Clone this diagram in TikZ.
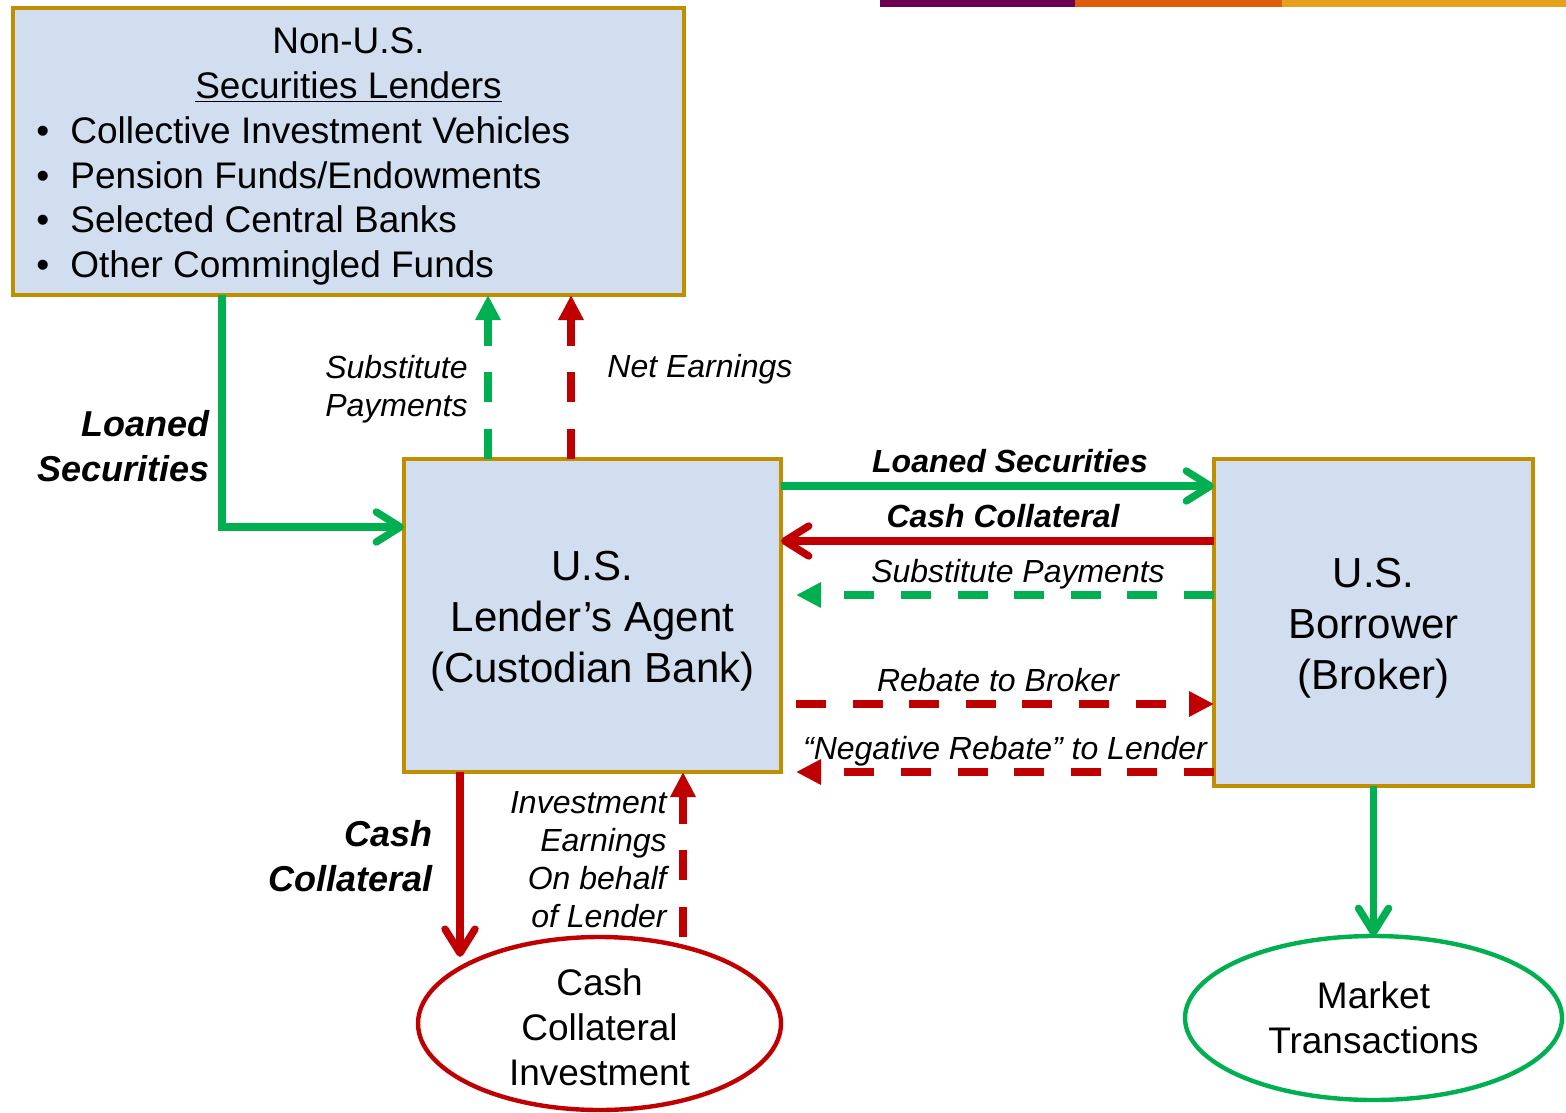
\documentclass[tikz,border=0pt]{standalone}
\usepackage{fontspec}
\setmainfont{Liberation Sans}
\usetikzlibrary{arrows.meta,shapes.geometric,calc}
\definecolor{boxFill}{HTML}{D0DEEF}
\definecolor{boxLine}{HTML}{BF8F00}
\definecolor{flowGreen}{HTML}{00B050}
\definecolor{flowRed}{HTML}{C00000}
\definecolor{barPurple}{HTML}{6C0055}
\definecolor{barOrange}{HTML}{DF5C0E}
\definecolor{barGold}{HTML}{E5A01E}

\begin{document}
\begin{tikzpicture}[x=0.5pt, y=-0.5pt,
    box/.style={draw=boxLine, fill=boxFill, line width=2.2pt, inner sep=0pt, outer sep=0pt},
    pool/.style={ellipse, draw, fill=white, line width=2.2pt, inner sep=0pt, outer sep=0pt},
    flow/.style={line width=3.7pt},
    solidhead/.style={-{Straight Barb[length=12pt,width=15pt,round]}},
    dashhead/.style={dash pattern=on 15pt off 13.3pt, -{Triangle[length=12.5pt,width=12pt]}},
    big/.style={font=\fontsize{21}{25.5}\selectfont, align=center},
    mid/.style={font=\fontsize{18.5}{22.4}\selectfont},
    lbl/.style={font=\fontsize{16}{19}\selectfont\itshape, inner sep=0pt},
    lblb/.style={lbl, font=\fontsize{16}{19}\selectfont\bfseries\itshape},
    blbl/.style={font=\fontsize{18}{22.5}\selectfont\bfseries\itshape, inner sep=0pt, align=right}]

    \useasboundingbox (0,0) rectangle (1566,1112);

    % colour strip at the top edge
    \fill[barPurple] (880,0) rectangle (1075,7);
    \fill[barOrange] (1075,0) rectangle (1282,7);
    \fill[barGold] (1282,0) rectangle (1566,7);

    % the parties
    \node[box, minimum width=335.5pt, minimum height=143.5pt] (lenders) at (348.5,151.5) {};
    \node[box, minimum width=188.5pt, minimum height=156.5pt,
        label={[big, yshift=-3pt]center:U.S.\\Lender's Agent\\(Custodian Bank)}] (agent) at (592.5,615.5) {};
    \node[box, minimum width=159.5pt, minimum height=163.5pt,
        label={[big, yshift=-3pt]center:U.S.\\Borrower\\(Broker)}] (borrower) at (1373.5,622.5) {};
    \node[pool, draw=flowRed, minimum width=181.5pt, minimum height=86.5pt,
        label={[mid, align=center, yshift=-1.75pt]center:Cash\\Collateral\\Investment}] (invest) at (599.5,1023.5) {};
    \node[pool, draw=flowGreen, minimum width=188.5pt, minimum height=82pt,
        label={[mid, align=center]center:Market\\Transactions}] (market) at (1373.5,1018) {};

    % text of the lenders box
    \node[mid, align=center, anchor=north, inner sep=0pt] (lhead) at (348.5,27)
        {Non-U.S.\\\underline{Securities Lenders}};
    \node[mid, align=left, anchor=north west, inner sep=0pt] (llist) at (36,116)
        {\makebox[17pt][l]{\textbullet}Collective Investment Vehicles\\
         \makebox[17pt][l]{\textbullet}Pension Funds/Endowments\\
         \makebox[17pt][l]{\textbullet}Selected Central Banks\\
         \makebox[17pt][l]{\textbullet}Other Commingled Funds};

    % lenders <-> agent
    \draw[flow, flowGreen, solidhead] ($(lenders.south west)+(209,0)$) |- ($(agent.west)+(0,-88.5)$);
    \draw[flow, flowGreen, dashhead] ($(agent.north west)+(84,0)$) -- ($(lenders.south west)+(475,0)$);
    \draw[flow, flowRed, dashhead] ($(agent.north west)+(167,0)$) -- ($(lenders.south west)+(558,0)$);
    \node[blbl, anchor=north east] (lsLeft) at (210,410) {Loaned\\Securities};
    \node[lbl, align=right, anchor=north east] (spUp) at (468,355) {Substitute\\Payments};
    \node[lbl, anchor=base west] (neUp) at (607,377) {Net Earnings};

    % agent <-> borrower
    \draw[flow, flowGreen, solidhead] ($(agent.north east)+(0,27)$) -- ($(borrower.north west)+(0,27)$);
    \draw[flow, flowRed, solidhead] ($(borrower.north west)+(0,82)$) -- ($(agent.north east)+(0,82)$);
    \draw[flow, flowGreen, dashhead] ($(borrower.north west)+(0,136)$) -- ($(agent.north east)+(15,136)$);
    \draw[flow, flowRed, dashhead] ($(agent.north east)+(15,245)$) -- ($(borrower.north west)+(0,245)$);
    \draw[flow, flowRed, dashhead] ($(borrower.north west)+(0,313)$) -- ($(agent.north east)+(15,313)$);
    \node[lblb, anchor=base] (lsRight) at (1010,472) {Loaned Securities};
    \node[lblb, anchor=base] (ccRight) at (1003,527) {Cash Collateral};
    \node[lbl, anchor=base] (spRight) at (1018,582) {Substitute Payments};
    \node[lbl, anchor=base] (rbRight) at (998,691) {Rebate to Broker};
    \node[lbl, anchor=base] (nrRight) at (1005,759) {``Negative Rebate'' to Lender};

    % agent <-> cash collateral investment
    \coordinate (cdrop) at ($(agent.south west)+(56,0)$);
    \coordinate (cearn) at ($(agent.south west)+(279,0)$);
    \draw[flow, flowRed, solidhead] (cdrop) -- (cdrop |- invest.150);
    \draw[flow, flowRed, dashhead] (cearn |- invest.north) -- (cearn);
    \node[blbl, anchor=north east] (ccDown) at (433,820) {Cash\\Collateral};
    \node[lbl, align=right, anchor=north east] (ieUp) at (667,791.5)
        {Investment\\Earnings\\On behalf\\of Lender};

    % borrower -> market
    \draw[flow, flowGreen, solidhead] (borrower.south) -- (market.north);

\end{tikzpicture}
\end{document}
